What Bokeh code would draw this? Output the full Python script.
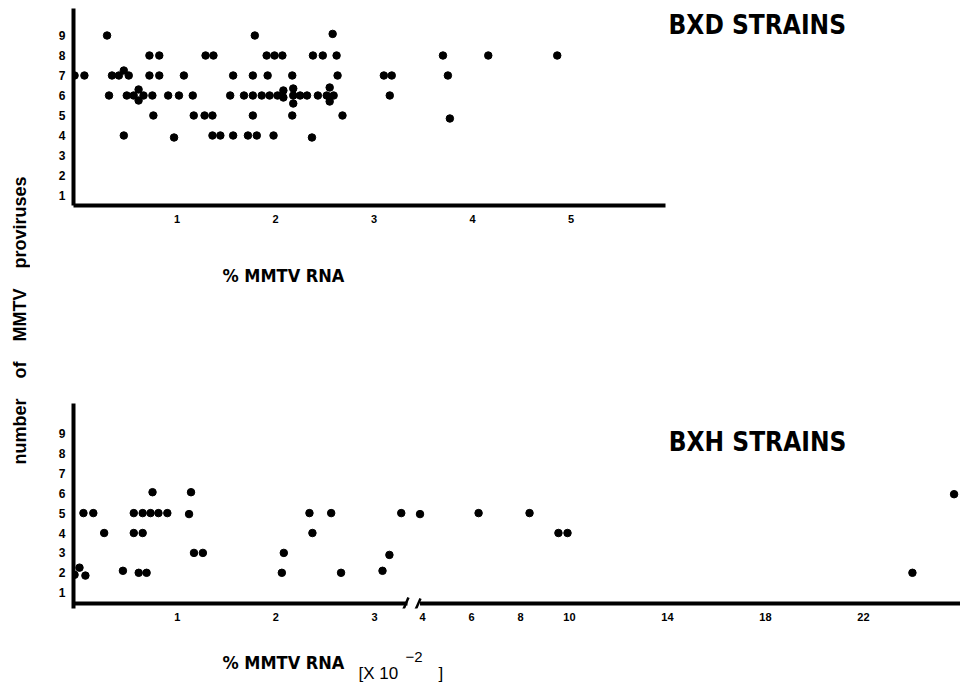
import math
from bokeh.plotting import figure
from bokeh.models import Range1d, FixedTicker, Label
from bokeh.layouts import row, column
from bokeh.embed import file_html
from bokeh.resources import INLINE

# ---------------- data ----------------
# BXD strains: % MMTV RNA vs number of MMTV proviruses
bxd_rna = [0.29, 1.79, 2.58,
           0.72, 0.82, 1.29, 1.37, 1.91, 1.99, 2.07, 2.38, 2.48, 2.62, 3.70, 4.16, 4.86,
           -0.04, 0.06, 0.34, 0.41, 0.46, 0.51, 0.72, 0.82, 1.07, 1.57, 1.77, 1.92, 2.17, 2.63, 3.10, 3.18, 3.75,
           0.31, 0.49, 0.56, 0.61, 0.61, 0.66, 0.75, 0.91, 1.02, 1.16, 1.54, 1.68, 1.77, 1.86, 1.94, 2.02,
           2.08, 2.08, 2.18, 2.18, 2.18, 2.25, 2.32, 2.43, 2.52, 2.55, 2.55, 2.59, 3.16,
           0.76, 1.17, 1.28, 1.36, 1.77, 2.17, 2.68, 3.77,
           0.46, 0.97, 1.36, 1.44, 1.57, 1.72, 1.81, 1.98, 2.37]
bxd_prov = [9.0, 9.0, 9.08,
            8, 8, 8, 8, 8, 8, 8, 8, 8, 8, 8, 8, 8,
            7, 7, 7, 7, 7.25, 7, 7, 7, 7, 7, 7, 7, 7, 7, 7, 7, 7,
            6, 6, 6, 6.3, 5.75, 6, 6, 6, 6, 6, 6, 6, 6, 6, 6, 6,
            6.25, 5.9, 6.35, 5.6, 6.0, 6, 6, 6, 6, 6.4, 5.7, 6, 6,
            5, 5, 5, 5, 5, 5, 5, 4.85,
            4, 3.9, 4, 4, 4, 4, 4, 4, 3.9]

# BXH strains: % MMTV RNA (x 10^-2) vs number of MMTV proviruses
bxh_rna = [-0.04, 0.01, 0.07, 0.45, 0.61, 0.69, 2.06, 2.66, 3.08, 24.0,
           1.17, 1.26, 2.08, 3.15,
           0.26, 0.56, 0.65, 2.37, 9.55, 9.92,
           0.05, 0.15, 0.56, 0.65, 0.73, 0.81, 0.90, 1.12, 2.34, 2.56, 3.27, 3.9, 6.29, 8.37,
           0.75, 1.14, 25.7]
bxh_prov = [1.9, 2.26, 1.86, 2.1, 2.0, 2.0, 2.0, 2.0, 2.1, 2.0,
            3.0, 3.0, 3.0, 2.9,
            4, 4, 4, 4, 4, 4,
            5, 5, 5, 5, 5, 5, 5, 4.95, 5, 5, 5, 4.95, 5, 5,
            6.05, 6.05, 5.95]

y_ticks = [1, 2, 3, 4, 5, 6, 7, 8, 9]
bxd_x_ticks = [1, 2, 3, 4, 5]
bxh_x_ticks = [1, 2, 3, 4, 6, 8, 10, 14, 18, 22]

# broken x scale of the BXH panel (values >= 3.5 are compressed)
BREAK_LO = 3.5
R_ORIGIN = 3.485
R_SCALE = 0.2482


def to_disp(v):
    return v if v < BREAK_LO else round(R_ORIGIN + (v - 4) * R_SCALE, 6)


COND = "DejaVu Sans Condensed"
SANS = "Liberation Sans"
GAP = " \u00a0 \u00a0"


def style(p, xticks, overrides=None):
    p.grid.visible = False
    p.outline_line_color = None
    p.background_fill_color = "white"
    p.border_fill_color = "white"
    for ax in (p.xaxis[0], p.yaxis[0]):
        ax.axis_line_width = 4
        ax.axis_line_color = "black"
        ax.major_tick_line_color = None
        ax.minor_tick_line_color = None
        ax.major_label_text_font = SANS
        ax.major_label_text_font_style = "bold"
        ax.major_label_text_color = "black"
    p.yaxis.ticker = FixedTicker(ticks=y_ticks)
    p.yaxis.major_label_text_font_size = "12px"
    p.yaxis.major_label_standoff = 2
    p.xaxis.ticker = FixedTicker(ticks=xticks)
    p.xaxis.major_label_text_font_size = "11px"
    if overrides:
        p.xaxis.major_label_overrides = overrides


def label(p, x, y, text, font, size, bold=True, **kw):
    p.add_layout(Label(x=x, y=y, text=text, text_font=font,
                       text_font_style="bold" if bold else "normal",
                       text_font_size=size, text_color="black",
                       text_baseline=kw.pop("baseline", "alphabetic"),
                       text_align=kw.pop("align", "left"), **kw))


def text_fig(h, y_top):
    f = figure(width=930, height=h, output_backend="svg", toolbar_location=None,
               x_range=Range1d(73, 960), y_range=Range1d(y_top + h, y_top),
               x_axis_type=None, y_axis_type=None,
               min_border_left=43, min_border_right=0, min_border_top=0, min_border_bottom=0)
    f.grid.visible = False
    f.outline_line_color = None
    return f


# ---------------- top panel (BXD) ----------------
top = figure(width=930, height=240, output_backend="svg", toolbar_location=None,
             x_range=Range1d(-0.0508, 8.954), y_range=Range1d(0.5, 10.35),
             min_border_left=43, min_border_right=0, min_border_top=8, min_border_bottom=35)
style(top, bxd_x_ticks)
top.xaxis.bounds = (-0.0508, 5.959)
top.xaxis.major_label_standoff = 3
top.scatter(bxd_rna, bxd_prov, size=7.5, color="black")
label(top, 5.99, 9.55, "BXD STRAINS", COND, "26px")

txt1 = text_fig(60, 240)
label(txt1, 222, 275, "% MMTV  RNA", COND, "18px")

# ---------------- bottom panel (BXH) ----------------
AXIS_Y = 0.457  # level of the broken x axis (frame extends a little below it)
bx = [to_disp(v) for v in bxh_rna]
bot = figure(width=930, height=345, output_backend="svg", toolbar_location=None,
             x_range=Range1d(-0.0507, 8.936), y_range=Range1d(0.206, 10.508),
             min_border_left=43, min_border_right=0, min_border_top=103, min_border_bottom=37)
style(bot, [to_disp(t) for t in bxh_x_ticks], {to_disp(t): str(t) for t in bxh_x_ticks})
bot.xaxis.axis_line_color = None
bot.xaxis.major_label_standoff = -2
# broken axis line and the two break marks
bot.segment(x0=[bot.x_range.start, 3.46], y0=[AXIS_Y, AXIS_Y],
            x1=[3.333, bot.x_range.end], y1=[AXIS_Y, AXIS_Y], line_width=4, line_color="black")
bot.segment(x0=[3.283, 3.394], y0=[0.055, -0.096], x1=[3.343, 3.465], y1=[0.759, 0.709],
            line_width=2.5, line_color="black")
bot.scatter(bx, bxh_prov, size=7.5, color="black")
label(bot, 5.98, 8.55, "BXH STRAINS", COND, "26px")

txt2 = text_fig(52, 645)
label(txt2, 222, 662, "% MMTV  RNA", COND, "18px")
label(txt2, 358, 673, "[X 10", SANS, "17px", bold=False)
label(txt2, 405, 656, "\u22122", SANS, "15px", bold=False)
label(txt2, 438, 673, "]", SANS, "17px", bold=False)

# ---------------- shared y label ----------------
lab = figure(width=30, height=697, output_backend="svg", toolbar_location=None,
             x_range=Range1d(0, 30), y_range=Range1d(697, 0),
             x_axis_type=None, y_axis_type=None,
             min_border_left=0, min_border_right=0, min_border_top=0, min_border_bottom=0)
lab.grid.visible = False
lab.outline_line_color = None
label(lab, 19, 320, "number" + GAP + "of" + GAP + "MMTV" + GAP + "proviruses", SANS, "18px",
      angle=math.pi / 2, align="center", baseline="middle")

layout = row(lab, column(top, txt1, bot, txt2))
open("out.html", "w").write(file_html(layout, INLINE))
